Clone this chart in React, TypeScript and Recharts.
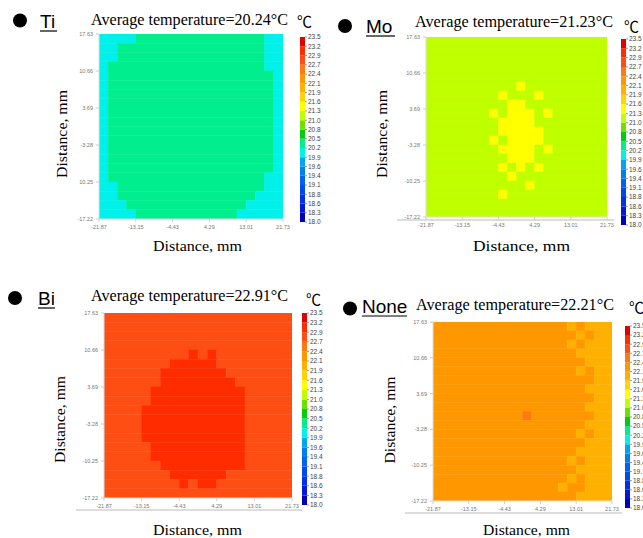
import React from "react";
import { ScatterChart, Scatter, XAxis, YAxis, ReferenceArea, BarChart, Bar } from "recharts";

// ---------- data ----------
const PANEL_NAMES = ["Ti", "Mo", "Bi", "None"];
const AVERAGE_TEMPS = [20.24, 21.23, 22.91, 22.21];

const X_TICKS = [-21.87, -13.15, -4.43, 4.29, 13.01, 21.73];
const Y_TICKS = [-17.22, -10.25, -3.28, 3.69, 10.66, 17.63];
const Y_TICK_LABELS_TI = ["-17.22", "10.25", "-3.28", "3.69", "10.66", "17.63"];
const Y_TICK_LABELS = ["-17.22", "-10.25", "-3.28", "3.69", "10.66", "17.63"];

// colour-scale edges (bottom -> top), 20 bins
const SCALE_EDGES = [18.0, 18.3, 18.6, 18.8, 19.1, 19.4, 19.6, 19.9, 20.2, 20.5, 20.8, 21.0, 21.3, 21.6, 21.9, 22.1, 22.4, 22.7, 22.9, 23.2, 23.5];
const SCALE_COLORS = [
  "#0000b8", "#0018d8", "#0030e8", "#0048f0", "#0064f0", "#0080f0", "#00a4f0",
  "#00f0ea", "#00ee8e", "#00cc10", "#70e000", "#bfff00", "#ffff00", "#ffd400",
  "#ffb000", "#ff9800", "#ff7a10", "#ff4e14", "#ff2c00", "#e40000",
];
// each grid character = index of the temperature bin (0..19)
const LEVEL_CODES = "0123456789abcdefghij";

// 20 x 20 temperature-bin grids, rows from top (y=17.63) to bottom (y=-17.22)
const GRID_TI = [
  "77778888888888888877",
  "77888888888888888877",
  "77888888888888888877",
  "78888888888888888877",
  "78888888888888888887",
  "78888888888888888887",
  "78888888888888888887",
  "78888888888888888887",
  "78888888888888888887",
  "78888888888888888887",
  "78888888888888888887",
  "78888888888888888887",
  "78888888888888888887",
  "78888888888888888887",
  "78888888888888888887",
  "78888888888888888877",
  "77888888888888888877",
  "77888888888888888777",
  "77788888888888887777",
  "77778888888888877777",
];
const GRID_MO = [
  "bbbbbbbbbbbbbbbbbbbb",
  "bbbbbbbbbbbbbbbbbbbb",
  "bbbbbbbbbbbbbbbbbbbb",
  "bbbbbbbbbbbbbbbbbbbb",
  "bbbbbbbbbbbbbbbbbbbb",
  "bbbbbbbbbbcbbbbbbbbb",
  "bbbbbbbbcbbbcbbbbbbb",
  "bbbbbbbbbccbbbbbbbbb",
  "bbbbbbbcbcccbcbbbbbb",
  "bbbbbbbbccccbbbbbbbb",
  "bbbbbbbbcccccbbbbbbb",
  "bbbbbbbcbccccbbbbbbb",
  "bbbbbbbbccccbcbbbbbb",
  "bbbbbbbbbcccbbbbbbbb",
  "bbbbbbbbcbcbcbbbbbbb",
  "bbbbbbbbbcbbbbbbbbbb",
  "bbbbbbbbbbbcbbbbbbbb",
  "bbbbbbbbcbbbbbbbbbbb",
  "bbbbbbbbbbbbbbbbbbbb",
  "bbbbbbbbbbbbbbbbbbbb",
];
const GRID_BI = [
  "hhhhhhhhhhhhhhhhhhhh",
  "hhhhhhhhhhhhhhhhhhhh",
  "hhhhhhhhhhhhhhhhhhhh",
  "hhhhhhhhhhhhhhhhhhhh",
  "hhhhhhhhhihihhhhhhhh",
  "hhhhhhhiiiiihhhhhhhh",
  "hhhhhhiiiiiiihhhhhhh",
  "hhhhhhiiiiiiiihhhhhh",
  "hhhhhiiiiiiiiiihhhhh",
  "hhhhhiiiiiiiiiihhhhh",
  "hhhhiiiiiiiiiiihhhhh",
  "hhhhiiiiiiiiiiihhhhh",
  "hhhhiiiiiiiiiiihhhhh",
  "hhhhiiiiiiiiiiihhhhh",
  "hhhhhiiiiiiiiiihhhhh",
  "hhhhhiiiiiiiiiihhhhh",
  "hhhhhhiiiiiiiiihhhhh",
  "hhhhhhhiiiiiihhhhhhh",
  "hhhhhhhhihiihhhhhhhh",
  "hhhhhhhhhhhhhhhhhhhh",
];
const GRID_NONE = [
  "fffffffffffffffefeee",
  "ffffffffffffffffefee",
  "fffffffffffffffefeee",
  "ffffffffffffffffeeee",
  "fffffffffffffffffeee",
  "ffffffffffffffffefee",
  "ffffffffffffffffffee",
  "fffffffffffffffffeee",
  "ffffffffffffffffffee",
  "fffffffffffffffffeee",
  "ffffffffffgfffffffee",
  "fffffffffffffffffeee",
  "ffffffffffffffffefee",
  "fffffffffffffffffeee",
  "ffffffffffffffffeeee",
  "fffffffffffffffefeee",
  "ffffffffffffffffeeee",
  "fffffffffffffffefeee",
  "ffffffffffffffeffeee",
  "ffffffffffffffffeeee",
];
const GRIDS = [GRID_TI, GRID_MO, GRID_BI, GRID_NONE];

// ---------- layout (pixels) ----------
const LAYOUT = [
  { plot: [99, 34, 184, 185], bar: [300, 37, 185], bullet: [20, 20.5], name: [40, 28, 57], title: [91, 24.5, 197], unit: [297, 27], xlab: [197.5, 251, 89], ylab: [67, 134, 88], rule: null },
  { plot: [426, 37, 181, 180], bar: [621, 39, 186], bullet: [345, 26], name: [366, 33, 395], title: [415, 27, 198], unit: [624, 32], xlab: [521.5, 251, 97], ylab: [387, 134, 88], rule: [397, 614, 220] },
  { plot: [104, 313, 188, 185], bar: [302, 313, 192], bullet: [15, 298], name: [38, 305, 55], title: [91, 301, 197], unit: [306, 305], xlab: [197.5, 535, 89], ylab: [64.5, 419.5, 87], rule: [76, 302, 510] },
  { plot: [433, 322, 179, 179], bar: [625, 326, 182], bullet: [350, 308.5], name: [362, 313, 407], title: [416, 310, 198], unit: [629, 313], xlab: [526.5, 535, 87], ylab: [394.5, 420, 87], rule: [405, 622, 513] },
];

const binMid = (k: number) => (SCALE_EDGES[k] + SCALE_EDGES[k + 1]) / 2;
const colorFor = (t: number) => {
  for (let k = 0; k < SCALE_COLORS.length; k++) {
    if (t >= SCALE_EDGES[k] && t < SCALE_EDGES[k + 1]) return SCALE_COLORS[k];
  }
  return SCALE_COLORS[SCALE_COLORS.length - 1];
};

function buildCells(grid: string[]) {
  const xMin = X_TICKS[0], xMax = X_TICKS[X_TICKS.length - 1];
  const yMin = Y_TICKS[0], yMax = Y_TICKS[Y_TICKS.length - 1];
  const nr = grid.length;
  const nc = grid[0].length;
  const dx = (xMax - xMin) / nc;
  const dy = (yMax - yMin) / nr;
  const cells: any[] = [];
  grid.forEach((row, r) => {
    let c = 0;
    while (c < nc) {
      const ch = row[c];
      let e = c;
      while (e + 1 < nc && row[e + 1] === ch) e++;
      const t = binMid(LEVEL_CODES.indexOf(ch));
      cells.push({
        x1: xMin + c * dx,
        x2: xMin + (e + 1) * dx,
        y1: yMax - (r + 1) * dy,
        y2: yMax - r * dy,
        t,
      });
      c = e + 1;
    }
  });
  return cells;
}

const TICK_STYLE = { fontSize: 5.5, fill: "#777", fontFamily: "Liberation Sans, Arial, sans-serif" };

function Heatmap({ idx }: { idx: number }) {
  const [px, py, pw, ph] = LAYOUT[idx].plot;
  const mt = 6, mr = 14, yW = 36, xH = 16;
  const cells = buildCells(GRIDS[idx]);
  const yLabels = idx === 0 ? Y_TICK_LABELS_TI : Y_TICK_LABELS;
  const corners = [
    { x: X_TICKS[0], y: Y_TICKS[0] },
    { x: X_TICKS[X_TICKS.length - 1], y: Y_TICKS[Y_TICKS.length - 1] },
  ];
  return (
    <div style={{ position: "absolute", left: px - yW, top: py - mt }}>
      <ScatterChart width={yW + pw + mr} height={mt + ph + xH} margin={{ top: mt, right: mr, bottom: 0, left: 0 }}>
        <XAxis
          type="number"
          dataKey="x"
          domain={[X_TICKS[0], X_TICKS[X_TICKS.length - 1]]}
          ticks={X_TICKS}
          interval={0}
          allowDataOverflow
          height={xH}
          tick={TICK_STYLE}
          tickSize={3}
          tickMargin={3}
          tickLine={{ stroke: "#ccc" }}
          axisLine={{ stroke: "#ddd" }}
          tickFormatter={(v: number) => v.toFixed(2)}
        />
        <YAxis
          type="number"
          dataKey="y"
          domain={[Y_TICKS[0], Y_TICKS[Y_TICKS.length - 1]]}
          ticks={Y_TICKS}
          interval={0}
          allowDataOverflow
          width={yW}
          tick={TICK_STYLE}
          tickSize={3}
          tickMargin={3}
          tickLine={{ stroke: "#ccc" }}
          axisLine={{ stroke: "#ddd" }}
          tickFormatter={(v: number) => yLabels[Y_TICKS.indexOf(v)] ?? v.toFixed(2)}
        />
        {cells.map((c, i) => (
          <ReferenceArea
            key={i}
            x1={c.x1}
            x2={c.x2}
            y1={c.y1}
            y2={c.y2}
            fill={colorFor(c.t)}
            fillOpacity={1}
            stroke={colorFor(c.t)}
            strokeWidth={0.5}
            ifOverflow="hidden"
          />
        ))}
        <Scatter data={corners} isAnimationActive={false} shape={() => <g />} />
      </ScatterChart>
    </div>
  );
}

const BAR_ROW: any = { k: "scale" };
SCALE_COLORS.forEach((_, i) => (BAR_ROW["b" + i] = 1));
const BAR_TICKS = SCALE_EDGES.map((_, i) => i);

function ColorBar({ idx }: { idx: number }) {
  const [bx, by, bh] = LAYOUT[idx].bar;
  const mt = 5, mb = 5, axisW = 24, barW = 5;
  return (
    <div style={{ position: "absolute", left: bx, top: by - mt }}>
      <BarChart width={barW + axisW} height={bh + mt + mb} data={[BAR_ROW]} margin={{ top: mt, bottom: mb, left: 0, right: 0 }} barCategoryGap={0} barGap={0}>
        <XAxis dataKey="k" hide />
        <YAxis
          orientation="right"
          type="number"
          domain={[0, SCALE_COLORS.length]}
          ticks={BAR_TICKS}
          interval={0}
          width={axisW}
          allowDataOverflow
          tick={{ fontSize: 6.5, fill: "#444", fontFamily: "Liberation Sans, Arial, sans-serif" }}
          tickSize={2}
          tickMargin={1}
          axisLine={false}
          tickLine={{ stroke: "#999" }}
          tickFormatter={(i: number) => SCALE_EDGES[i].toFixed(1)}
        />
        {SCALE_COLORS.map((col, i) => (
          <Bar key={i} dataKey={"b" + i} stackId="s" fill={col} isAnimationActive={false} />
        ))}
      </BarChart>
    </div>
  );
}

function Labels() {
  const serif = "Liberation Serif, Times New Roman, serif";
  return (
    <svg width={643} height={538} style={{ position: "absolute", left: 0, top: 0 }}>
      {LAYOUT.map((L, i) => (
        <g key={i}>
          <circle cx={L.bullet[0]} cy={L.bullet[1]} r={7} fill="#000" />
          <text x={L.name[0]} y={L.name[1]} fontSize={19} fontFamily="Liberation Sans, Arial, sans-serif" fill="#000">
            {PANEL_NAMES[i]}
          </text>
          <line x1={L.name[0]} x2={L.name[2]} y1={L.name[1] + 3} y2={L.name[1] + 3} stroke="#000" strokeWidth={1.2} />
          <text x={L.title[0]} y={L.title[1]} fontSize={16.5} fontFamily={serif} fill="#000" textLength={L.title[2]} lengthAdjust="spacingAndGlyphs">
            {`Average temperature=${AVERAGE_TEMPS[i].toFixed(2)}°C`}
          </text>
          <text x={L.unit[0]} y={L.unit[1]} fontSize={15} fontFamily="Noto Sans CJK JP, sans-serif" fill="#000">
            ℃
          </text>
          <text x={L.xlab[0]} y={L.xlab[1]} fontSize={15.5} fontFamily={serif} fill="#000" textAnchor="middle" textLength={L.xlab[2]} lengthAdjust="spacingAndGlyphs">
            Distance, mm
          </text>
          <text
            x={L.ylab[0]}
            y={L.ylab[1]}
            fontSize={15.5}
            fontFamily={serif}
            fill="#000"
            textAnchor="middle"
            transform={`rotate(-90 ${L.ylab[0]} ${L.ylab[1]})`}
            textLength={L.ylab[2]}
            lengthAdjust="spacingAndGlyphs"
          >
            Distance, mm
          </text>
          {L.rule && <line x1={L.rule[0]} x2={L.rule[1]} y1={L.rule[2]} y2={L.rule[2]} stroke="#bbb" strokeWidth={1} />}
        </g>
      ))}
    </svg>
  );
}

export default function App() {
  return (
    <div style={{ position: "absolute", left: 0, top: 0, width: 643, height: 538, overflow: "hidden", background: "#fff" }}>
      <Labels />
      {PANEL_NAMES.map((_, i) => (
        <Heatmap key={"h" + i} idx={i} />
      ))}
      {PANEL_NAMES.map((_, i) => (
        <ColorBar key={"c" + i} idx={i} />
      ))}
    </div>
  );
}
